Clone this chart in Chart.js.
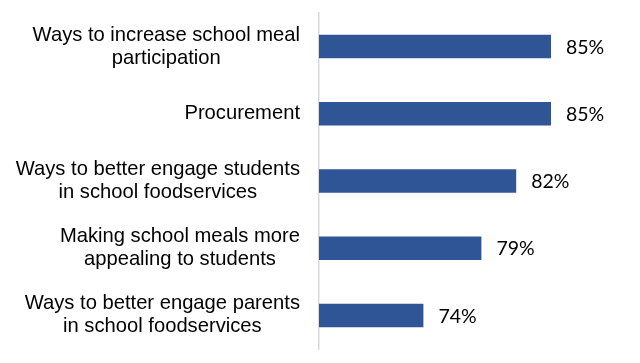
<!DOCTYPE html>
<html>
<head>
<meta charset="utf-8">
<script src="https://cdn.jsdelivr.net/npm/chart.js@4"></script>
<style>
html,body{margin:0;padding:0;background:#fff;}
#wrap{width:640px;height:363px;position:relative;}
</style>
</head>
<body>
<div id="wrap"><canvas id="c"></canvas></div>
<script>
const categories = [
  ["Ways to increase school meal", "participation"],
  ["Procurement"],
  ["Ways to better engage students", "in school foodservices"],
  ["Making school meals more", "appealing to students"],
  ["Ways to better engage parents", "in school foodservices"]
];
const values = [85, 85, 82, 79, 74];
const valueLabels = ["85%", "85%", "82%", "79%", "74%"];

const labelPlugin = {
  id: 'labels',
  afterDatasetsDraw(chart) {
    const ctx = chart.ctx;
    const y = chart.scales.y;
    const meta = chart.getDatasetMeta(0);
    ctx.save();
    ctx.fillStyle = '#000';
    ctx.textBaseline = 'middle';
    ctx.font = '20.2px "Liberation Sans", Arial, sans-serif';
    ctx.textAlign = 'center';
    categories.forEach((lines, i) => {
      const cy = y.getPixelForTick(i);
      const maxW = Math.max(...lines.map(l => ctx.measureText(l).width));
      const cx = y.right - 19 - maxW / 2;
      lines.forEach((l, j) => {
        ctx.fillText(l, cx, cy + (j - (lines.length - 1) / 2) * 23);
      });
    });
    ctx.font = '19.5px Lato, "Open Sans", sans-serif';
    ctx.textAlign = 'left';
    meta.data.forEach((bar, i) => {
      ctx.fillText(valueLabels[i], bar.x + 15, bar.y + 1);
    });
    ctx.restore();
  }
};

new Chart(document.getElementById('c'), {
  type: 'bar',
  data: {
    labels: categories,
    datasets: [{
      data: values,
      backgroundColor: '#2F5597',
      borderWidth: 0,
      barPercentage: 0.35,
      categoryPercentage: 1
    }]
  },
  options: {
    indexAxis: 'y',
    responsive: true,
    maintainAspectRatio: false,
    animation: false,
    layout: { padding: { top: 13, bottom: 14, right: 31, left: 0 } },
    plugins: { legend: { display: false }, tooltip: { enabled: false } },
    scales: {
      x: { display: false, min: 65, max: 90 },
      y: {
        grid: { display: false },
        border: { display: true, color: '#d9d9d9', width: 1.5 },
        ticks: { display: false },
        afterFit(scale) { scale.width = 319; }
      }
    }
  },
  plugins: [labelPlugin]
});
</script>
</body>
</html>
